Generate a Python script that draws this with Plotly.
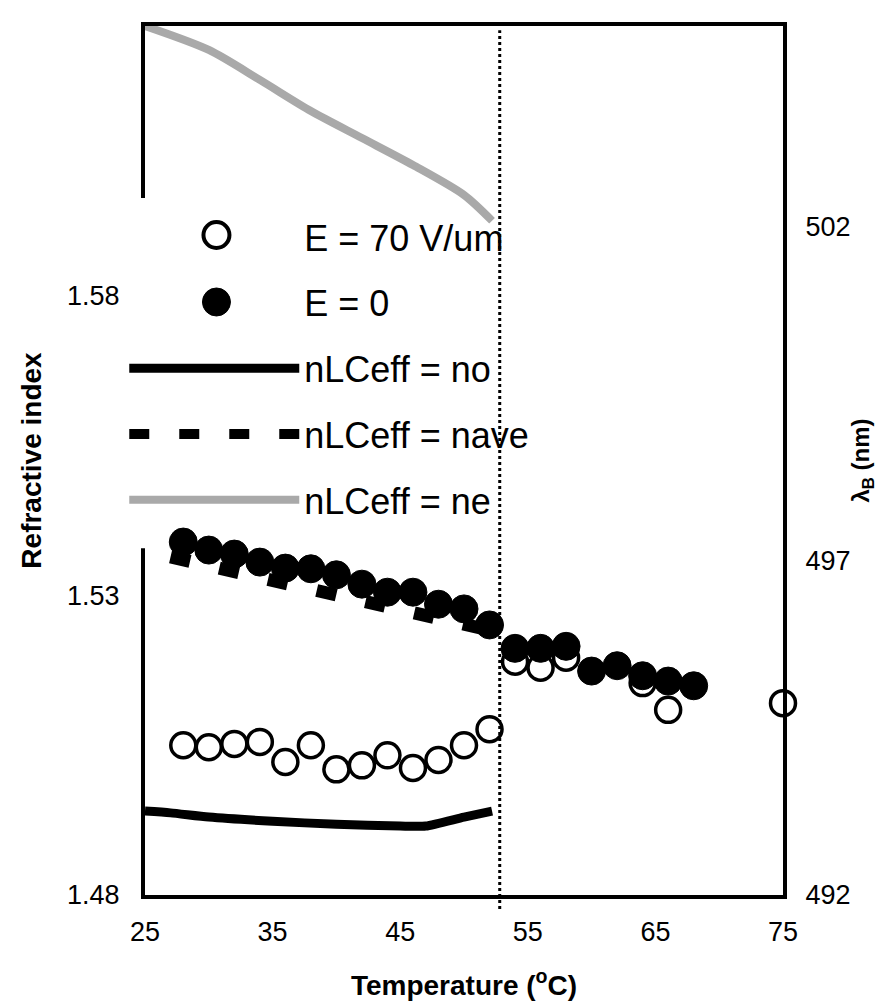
import plotly.graph_objects as go

# Temperatures (deg C) and measured Bragg wavelengths (nm)
t_e70 = [28, 30, 32, 34, 36, 38, 40, 42, 44, 46, 48, 50, 52, 54, 56, 58, 64, 66, 75]
lam_e70 = [494.24, 494.21, 494.26, 494.29, 493.99, 494.24, 493.88, 493.94, 494.09, 493.90,
           494.02, 494.24, 494.48, 495.49, 495.40, 495.55, 495.17, 494.77, 494.87]

t_e0 = [28, 30, 32, 34, 36, 38, 40, 42, 44, 46, 48, 50, 52, 54, 56, 58, 60, 62, 64, 66, 68]
lam_e0 = [497.28, 497.16, 497.10, 496.98, 496.89, 496.88, 496.79, 496.65, 496.53, 496.53,
          496.35, 496.28, 496.04, 495.69, 495.69, 495.72, 495.35, 495.43, 495.28, 495.20, 495.13]

# Calculated curves (refractive index axis)
t_no = [25, 27, 30, 35, 40, 45, 47, 50, 52.2]
n_no = [1.4940, 1.4937, 1.4930, 1.4923, 1.4918, 1.4915, 1.4915, 1.4930, 1.4940]

t_nave = [27, 40, 52]
n_nave = [1.5364, 1.5302, 1.5242]

t_ne = [25, 30, 34, 38, 42, 46, 50, 52.2]
n_ne = [1.6250, 1.6210, 1.6160, 1.6108, 1.6063, 1.6018, 1.5968, 1.5925]

t_transition = 52.8

x_ticks = [25, 35, 45, 55, 65, 75]
y_ticks = [1.48, 1.53, 1.58]
y2_ticks = [492, 497, 502]

FONT = "Liberation Sans, Arial, sans-serif"
GRAY = "#a9a9a9"

fig = go.Figure()

# legend entries (text from legend; big circle glyphs drawn as pixel-sized shapes)
fig.add_trace(go.Scatter(x=[None], y=[None], mode="markers", name="E = 70 V/um",
                         marker=dict(size=1, color="rgba(0,0,0,0)"),
                         legendgroup="a", yaxis="y2"))
fig.add_trace(go.Scatter(x=[None], y=[None], mode="markers", name="E = 0",
                         marker=dict(size=1, color="rgba(0,0,0,0)"),
                         legendgroup="b", yaxis="y2"))

fig.add_trace(go.Scatter(x=t_no, y=n_no, mode="lines", name="nLCeff = no",
                         line=dict(color="black", width=9, shape="spline", smoothing=0.6),
                         legendgroup="c", yaxis="y"))
fig.add_trace(go.Scatter(x=t_nave, y=n_nave, mode="lines", name="nLCeff = nave",
                         line=dict(color="black", width=13, dash="20px,30px"),
                         legendgroup="d", yaxis="y"))
fig.add_trace(go.Scatter(x=t_ne, y=n_ne, mode="lines", name="nLCeff = ne",
                         line=dict(color=GRAY, width=8, shape="spline", smoothing=0.8),
                         legendgroup="e", yaxis="y"))

fig.add_trace(go.Scatter(x=t_e70, y=lam_e70, mode="markers", name="E = 70 V/um",
                         marker=dict(symbol="circle", size=25, color="white",
                                     line=dict(color="black", width=3.5)),
                         showlegend=False, cliponaxis=False, yaxis="y2"))
fig.add_trace(go.Scatter(x=t_e0, y=lam_e0, mode="markers", name="E = 0",
                         marker=dict(symbol="circle", size=28, color="black",
                                     line=dict(color="black", width=1)),
                         showlegend=False, cliponaxis=False, yaxis="y2"))

# vertical dotted transition line
fig.add_shape(type="line", xref="x", yref="paper", x0=t_transition, x1=t_transition,
              y0=-0.016, y1=0.995, line=dict(color="black", width=3, dash="dot"),
              layer="above")
# the legend box hides the left axis line
fig.add_shape(type="rect", xref="paper", yref="paper", x0=-0.012, x1=0.012,
              y0=0.399, y1=0.802, fillcolor="white", line=dict(width=0), layer="above")
# legend circle glyphs
LEG_X = 0.112
fig.add_shape(type="circle", xref="paper", yref="paper", xsizemode="pixel", ysizemode="pixel",
              xanchor=LEG_X, yanchor=0.7595, x0=-13, x1=13, y0=-13, y1=13,
              fillcolor="white", line=dict(color="black", width=4), layer="above")
fig.add_shape(type="circle", xref="paper", yref="paper", xsizemode="pixel", ysizemode="pixel",
              xanchor=LEG_X, yanchor=0.6824, x0=-14, x1=14, y0=-14, y1=14,
              fillcolor="black", line=dict(color="black", width=1), layer="above")

fig.update_layout(
    width=888, height=1006,
    margin=dict(l=137, r=113, t=18, b=119),
    paper_bgcolor="white", plot_bgcolor="white",
    font=dict(family=FONT, color="black", size=27),
    showlegend=True,
    legend=dict(x=-0.0325, y=0.792, xanchor="left", yanchor="top",
                bgcolor="rgba(0,0,0,0)", borderwidth=0, itemwidth=170,
                font=dict(family=FONT, size=36, color="black"),
                tracegroupgap=16, traceorder="grouped"),
    xaxis=dict(range=[25, 75], tickvals=x_ticks, ticks="", showgrid=False, zeroline=False,
               showline=True, linecolor="black", linewidth=4, mirror=True,
               tickfont=dict(size=27), ticklabelstandoff=10,
               title=dict(text="<b>Temperature (<sup>o</sup>C)</b>", font=dict(size=28), standoff=30)),
    yaxis=dict(range=[1.48, 1.625], tickvals=y_ticks, tickformat=".2f", ticks="",
               showgrid=False, zeroline=False, showline=True, linecolor="black", linewidth=4,
               tickfont=dict(size=27), ticklabelstandoff=16,
               title=dict(text="<b>Refractive index</b>", font=dict(size=28), standoff=18)),
    yaxis2=dict(range=[492, 505], tickvals=y2_ticks, ticks="", overlaying="y", side="right",
                showgrid=False, zeroline=False, showline=True, linecolor="black", linewidth=4,
                tickfont=dict(size=27), ticklabelstandoff=13,
                title=dict(text="<b>λ<sub>B</sub> (nm)</b>", font=dict(size=24), standoff=4)),
)

fig.write_html("out.html")
